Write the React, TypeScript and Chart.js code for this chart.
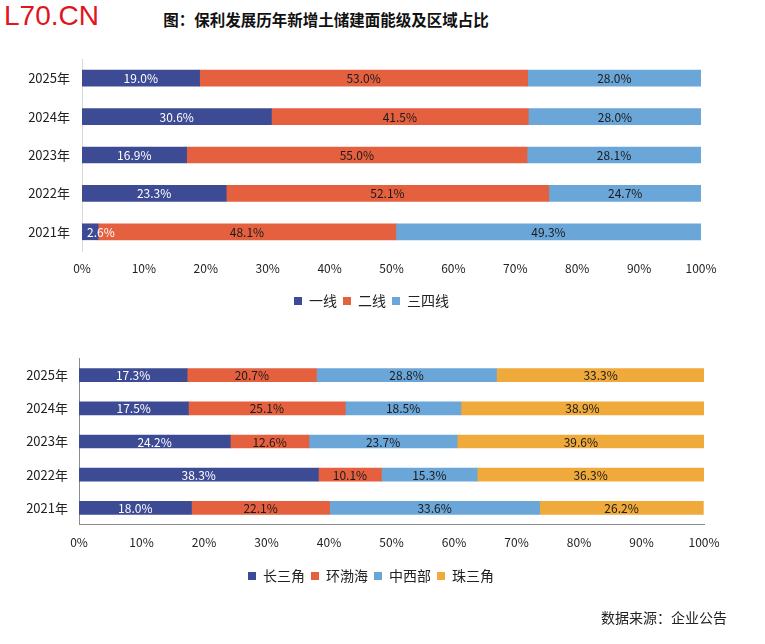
import React, { useEffect, useRef } from "react";
import { Chart, registerables } from "chart.js";
Chart.register(...registerables);

const years = ["2025年", "2024年", "2023年", "2022年", "2021年"];

const tierNames = ["一线", "二线", "三四线"];
const tier1 = [19.0, 30.6, 16.9, 23.3, 2.6];
const tier2 = [53.0, 41.5, 55.0, 52.1, 48.1];
const tier34 = [28.0, 28.0, 28.1, 24.7, 49.3];

const regionNames = ["长三角", "环渤海", "中西部", "珠三角"];
const yrd = [17.3, 17.5, 24.2, 38.3, 18.0];
const bohai = [20.7, 25.1, 12.6, 10.1, 22.1];
const central = [28.8, 18.5, 23.7, 15.3, 33.6];
const prd = [33.3, 38.9, 39.6, 36.3, 26.2];

const xMax = 100;
const xStep = 10;

const COLORS = ["#3D4B94", "#E5603F", "#6BA6D8", "#EFAA3B"];
const FONT = "'Noto Sans CJK SC', 'Noto Sans', sans-serif";

const barLabels = {
  id: "barLabels",
  afterDatasetsDraw(chart: any) {
    const ctx = chart.ctx;
    ctx.save();
    ctx.font = `12px ${FONT}`;
    ctx.textAlign = "center";
    ctx.textBaseline = "middle";
    chart.data.datasets.forEach((ds: any, di: number) => {
      const meta = chart.getDatasetMeta(di);
      meta.data.forEach((el: any, i: number) => {
        const v = ds.data[i];
        const txt = v.toFixed(1) + "%";
        const w = ctx.measureText(txt).width;
        const left = Math.min(el.x, el.base);
        let x = (el.x + el.base) / 2;
        x = Math.max(x, left + w / 2 + 5);
        ctx.fillStyle = di === 0 ? "#ffffff" : "#1a1a1a";
        ctx.fillText(txt, x, el.y + 0.5);
      });
    });
    ctx.restore();
  },
};

const shiftLegend = (dx: number) => ({
  id: "shiftLegend",
  afterLayout(chart: any) {
    const l = chart.legend;
    if (l) {
      l.left += dx;
      l.right += dx;
    }
  },
});

function makeConfig(
  names: string[],
  series: number[][],
  opts: {
    yWidth: number;
    padTop: number;
    padRight: number;
    padBottom: number;
    xHeight: number;
    bar: number;
    yBorder: string;
    xBorder: boolean;
    xPad: number;
    yPad: number;
    legendDx: number;
  }
): any {
  return {
    type: "bar",
    data: {
      labels: years,
      datasets: series.map((d, i) => ({
        label: names[i],
        data: d,
        backgroundColor: COLORS[i],
        borderWidth: 0,
        barThickness: opts.bar,
      })),
    },
    plugins: [barLabels, shiftLegend(opts.legendDx)],
    options: {
      indexAxis: "y",
      animation: false,
      responsive: false,
      layout: {
        padding: {
          left: 0,
          top: opts.padTop,
          right: opts.padRight,
          bottom: opts.padBottom,
        },
      },
      plugins: {
        title: { display: false },
        tooltip: { enabled: false },
        legend: {
          position: "bottom",
          labels: {
            boxWidth: 8,
            boxHeight: 8,
            padding: 6,
            color: "#222",
            font: { family: FONT, size: 14 },
          },
        },
      },
      scales: {
        x: {
          stacked: true,
          min: 0,
          max: xMax,
          grid: { display: false },
          border: { display: opts.xBorder, color: "#8c8c8c", width: 1 },
          ticks: {
            stepSize: xStep,
            padding: opts.xPad,
            color: "#222",
            font: { family: FONT, size: 12 },
            callback: (v: any) => v + "%",
          },
          afterFit: (s: any) => {
            s.height = opts.xHeight;
          },
        },
        y: {
          stacked: true,
          grid: { display: false },
          border: { display: true, color: opts.yBorder, width: 1 },
          ticks: {
            padding: opts.yPad,
            color: "#222",
            font: { family: FONT, size: 13 },
          },
          afterFit: (s: any) => {
            s.width = opts.yWidth;
          },
        },
      },
    },
  };
}

export default function App() {
  const topRef = useRef<HTMLCanvasElement>(null);
  const botRef = useRef<HTMLCanvasElement>(null);

  useEffect(() => {
    const c1 = new Chart(
      topRef.current as HTMLCanvasElement,
      makeConfig(tierNames, [tier1, tier2, tier34], {
        yWidth: 82,
        padTop: 59,
        padRight: 64,
        padBottom: 2,
        xHeight: 37,
        bar: 16,
        yBorder: "#d9d9d9",
        xBorder: false,
        xPad: 2,
        yPad: 4,
        legendDx: 21,
      })
    );
    const c2 = new Chart(
      botRef.current as HTMLCanvasElement,
      makeConfig(regionNames, [yrd, bohai, central, prd], {
        yWidth: 79,
        padTop: 28.5,
        padRight: 61,
        padBottom: 51,
        xHeight: 38.5,
        bar: 13,
        yBorder: "#8c8c8c",
        xBorder: true,
        xPad: 3,
        yPad: 3,
        legendDx: 19,
      })
    );
    return () => {
      c1.destroy();
      c2.destroy();
    };
  }, []);

  return (
    <div
      style={{
        position: "absolute",
        left: 0,
        top: 0,
        width: 765,
        height: 644,
        background: "#fff",
        overflow: "hidden",
      }}
    >
      <div
        style={{
          position: "absolute",
          left: 4,
          top: 0,
          fontFamily: "'Liberation Sans', Arial, sans-serif",
          fontSize: 28,
          lineHeight: "32px",
          color: "#E3141B",
        }}
      >
        L70.CN
      </div>
      <div
        style={{
          position: "absolute",
          left: 0,
          width: 652,
          top: 8,
          textAlign: "center",
          fontFamily: FONT,
          fontWeight: "bold",
          fontSize: 15.5,
          lineHeight: "22px",
          color: "#111",
        }}
      >
        图：保利发展历年新增土储建面能级及区域占比
      </div>
      <canvas
        ref={topRef}
        width={765}
        height={320}
        style={{ position: "absolute", left: 0, top: 0, display: "block" }}
      />
      <canvas
        ref={botRef}
        width={765}
        height={314}
        style={{ position: "absolute", left: 0, top: 330, display: "block" }}
      />
      <div
        style={{
          position: "absolute",
          left: 601,
          top: 607,
          fontFamily: FONT,
          fontSize: 14,
          lineHeight: "20px",
          color: "#222",
        }}
      >
        数据来源：企业公告
      </div>
    </div>
  );
}
